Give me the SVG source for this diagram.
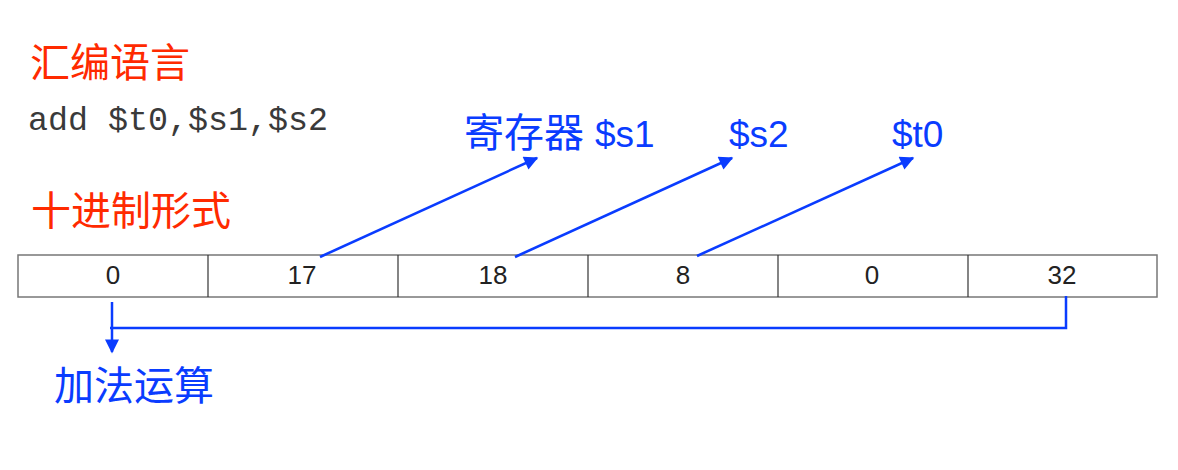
<svg xmlns="http://www.w3.org/2000/svg" width="1178" height="470" viewBox="0 0 1178 470">
<style>
.title{font-family:"Noto Sans CJK SC","Noto Sans",sans-serif;font-size:40px;fill:#ff2a00}
.lbl{font-family:"Liberation Sans","Noto Sans CJK SC",sans-serif;font-size:37px;fill:#0a3cff}
.lblcjk{font-family:"Noto Sans CJK SC",sans-serif;font-size:40px;fill:#0a3cff}
.code{font-family:"Liberation Mono","DejaVu Sans Mono",monospace;font-size:34px;fill:#3a3a3a}
.num{font-family:"Liberation Sans",Arial,sans-serif;font-size:26px;fill:#222;text-anchor:middle}
.cell{fill:#fff;stroke:#777;stroke-width:1.5}
.div{stroke:#333;stroke-width:1.2}
.con{fill:none;stroke:#0a3cff;stroke-width:2.5}
</style>
<defs>
<marker id="ah2" viewBox="0 0 10 10" refX="9" refY="5" markerWidth="16" markerHeight="14" orient="auto" markerUnits="userSpaceOnUse">
<path d="M0,0 L10,5 L0,10 z" fill="#0a3cff"/>
</marker>
</defs>
<rect width="1178" height="470" fill="#fff"/>
<g id="title-asm"><text class="title" x="30" y="77">汇编语言</text></g>
<g id="code"><text class="code" x="28" y="130" textLength="300" lengthAdjust="spacingAndGlyphs">add $t0,$s1,$s2</text></g>
<g id="title-dec"><text class="title" x="31" y="225">十进制形式</text></g>
<g id="label-s1"><text class="lblcjk" x="464" y="147">寄存器</text><text class="lbl" x="595" y="147">$s1</text></g>
<g id="label-s2"><text class="lbl" x="729" y="147">$s2</text></g>
<g id="label-t0"><text class="lbl" x="892" y="147">$t0</text></g>
<g id="table">
<rect class="cell" x="18" y="255" width="1139" height="42"/>
<line class="div" x1="208" y1="255" x2="208" y2="297"/>
<line class="div" x1="398" y1="255" x2="398" y2="297"/>
<line class="div" x1="588" y1="255" x2="588" y2="297"/>
<line class="div" x1="778" y1="255" x2="778" y2="297"/>
<line class="div" x1="968" y1="255" x2="968" y2="297"/>
<text class="num" x="113" y="284">0</text>
<text class="num" x="302" y="284">17</text>
<text class="num" x="493" y="284">18</text>
<text class="num" x="683" y="284">8</text>
<text class="num" x="872" y="284">0</text>
<text class="num" x="1062" y="284">32</text>
</g>
<g id="label-add"><text class="lblcjk" x="54" y="400">加法运算</text></g>
<g id="connectors">
<line class="con" x1="320" y1="257" x2="537" y2="158" marker-end="url(#ah2)"/>
<line class="con" x1="515" y1="257" x2="732" y2="158" marker-end="url(#ah2)"/>
<line class="con" x1="697" y1="256" x2="913" y2="158" marker-end="url(#ah2)"/>
<polyline class="con" points="1066,296 1066,328 110,328"/>
<line class="con" x1="112" y1="302" x2="112" y2="352" marker-end="url(#ah2)"/>
</g>
</svg>
